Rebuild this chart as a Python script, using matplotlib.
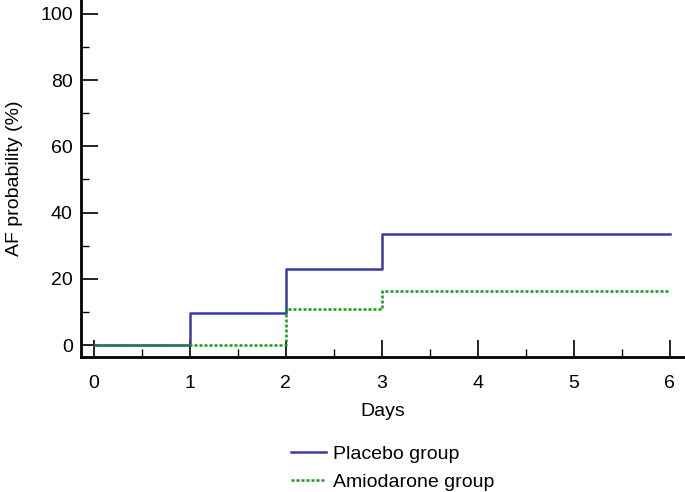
import matplotlib
matplotlib.use("Agg")
import matplotlib.pyplot as plt
from matplotlib.ticker import MultipleLocator

plt.rcParams['font.family'] = ['Liberation Sans', 'DejaVu Sans']

# step data (day, AF probability %)
days = [0, 1, 2, 3, 6]
placebo = [0, 9.6, 23.0, 33.6, 33.6]
amiodarone = [0, 0, 10.9, 16.3, 16.3]

fig = plt.figure(figsize=(6.85, 4.92), dpi=100)
ax = fig.add_axes([81/685, 1 - 357/492, 1 - 81/685, 357/492])

ax.step(days, placebo, where='post', color='#3a3aa8', lw=1.8, label='Placebo group')
ax.step(days, amiodarone, where='post', color='#1a9a1a', lw=1.8, ls=(0, (1.2, 0.8)),
        label='Amiodarone group')

ax.set_xlim(-0.135, 6.16)
ax.set_ylim(-3.6, 104.2)
ax.spines['top'].set_visible(False)
ax.spines['right'].set_visible(False)
ax.spines['left'].set_linewidth(2)
ax.spines['bottom'].set_linewidth(2)

ax.xaxis.set_major_locator(MultipleLocator(1))
ax.xaxis.set_minor_locator(MultipleLocator(0.5))
ax.yaxis.set_major_locator(MultipleLocator(20))
ax.yaxis.set_minor_locator(MultipleLocator(10))
ax.tick_params(which='major', direction='in', length=12, width=1.2, labelsize=14)
ax.tick_params(which='minor', direction='in', length=6, width=1.0)
ax.tick_params(axis='x', which='major', pad=13)
ax.tick_params(axis='y', which='major', pad=6)
ax.set_xlabel('Days', fontsize=14, labelpad=8)
ax.set_ylabel('AF probability (%)', fontsize=14, labelpad=12)

fig.legend(loc='upper left', bbox_to_anchor=(277/685, 1 - 432/492), frameon=False,
           fontsize=14, handlelength=1.8, handletextpad=0.4, labelspacing=0.5,
           borderpad=0.2)

fig.savefig('out.png', dpi=100)
